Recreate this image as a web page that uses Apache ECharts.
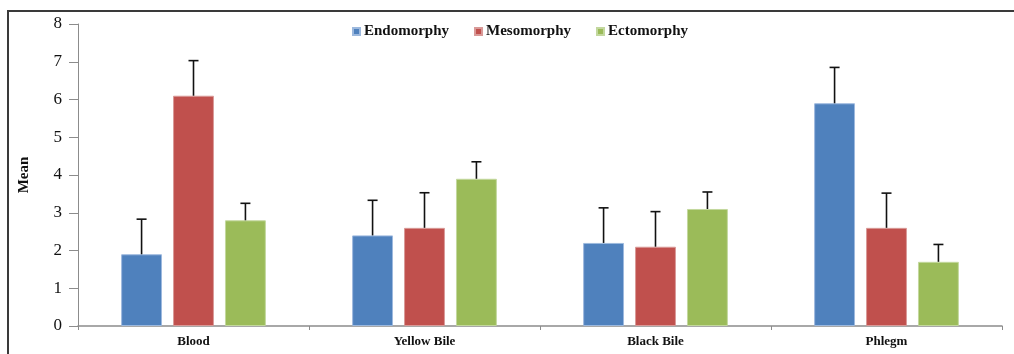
<!DOCTYPE html>
<html>
<head>
<meta charset="utf-8">
<script src="https://cdn.jsdelivr.net/npm/echarts@6/dist/echarts.min.js"></script>
<style>
html,body{margin:0;padding:0;background:#fff;}
#chart{width:1014px;height:354px;}
</style>
</head>
<body>
<div id="chart"></div>
<script>
var categories = ['Blood', 'Yellow Bile', 'Black Bile', 'Phlegm'];
var seriesNames = ['Endomorphy', 'Mesomorphy', 'Ectomorphy'];
var endomorphy = [1.9, 2.4, 2.2, 5.9];
var mesomorphy = [6.1, 2.6, 2.1, 2.6];
var ectomorphy = [2.8, 3.9, 3.1, 1.7];
var endomorphyErr = [0.93, 0.93, 0.93, 0.95];
var mesomorphyErr = [0.93, 0.93, 0.93, 0.92];
var ectomorphyErr = [0.45, 0.45, 0.45, 0.46];
var yTicks = ['0', '1', '2', '3', '4', '5', '6', '7', '8'];

var colors = ['#4F81BD', '#C0504D', '#9BBB59'];
var borders = ['#9DB9DE', '#D99A98', '#C3D89E'];
var values = [endomorphy, mesomorphy, ectomorphy];
var errors = [endomorphyErr, mesomorphyErr, ectomorphyErr];

var BAR_FRAC = 0.177;
var GAP_FRAC = 0.27;

function errRender(si) {
  return function (params, api) {
    var ci = api.value(0);
    var v = api.value(1);
    var e = api.value(2);
    var band = api.size([1, 0])[0];
    var bw = band * BAR_FRAC;
    var gap = bw * GAP_FRAC;
    var off = (si - 1) * (bw + gap);
    var base = api.coord([ci, v]);
    var top = api.coord([ci, v + e]);
    var x = base[0] + off;
    return {
      type: 'group',
      children: [
        {type: 'line', shape: {x1: x, y1: base[1], x2: x, y2: top[1]}, style: {stroke: '#111', lineWidth: 1.6}},
        {type: 'line', shape: {x1: x - 5, y1: top[1], x2: x + 5, y2: top[1]}, style: {stroke: '#111', lineWidth: 1.6}}
      ]
    };
  };
}

var series = [];
for (var i = 0; i < 3; i++) {
  series.push({
    name: seriesNames[i],
    type: 'bar',
    data: values[i],
    barWidth: (BAR_FRAC * 100) + '%',
    barGap: (GAP_FRAC * 100) + '%',
    itemStyle: {color: colors[i], borderColor: borders[i], borderWidth: 1},
    z: 2
  });
}
for (var j = 0; j < 3; j++) {
  var d = [];
  for (var k = 0; k < categories.length; k++) d.push([k, values[j][k], errors[j][k]]);
  series.push({
    type: 'custom',
    renderItem: errRender(j),
    data: d,
    encode: {x: 0, y: 1},
    z: 3,
    silent: true
  });
}

var chart = echarts.init(document.getElementById('chart'), null, {renderer: 'canvas'});
chart.setOption({
  animation: false,
  backgroundColor: '#fff',
  graphic: [{
    type: 'rect',
    shape: {x: 8, y: 11, width: 1100, height: 400},
    style: {fill: 'none', stroke: '#3a3a3a', lineWidth: 2},
    z: -1
  }],
  legend: {
    data: seriesNames,
    left: 347,
    top: 19,
    icon: 'rect',
    itemWidth: 7,
    itemHeight: 7,
    itemGap: 25,
    textStyle: {fontFamily: 'Liberation Serif', fontWeight: 'bold', fontSize: 15, color: '#111', padding: [0, 0, 0, -1]}
  },
  grid: {left: 78, right: 12, top: 24, bottom: 28, containLabel: false},
  xAxis: {
    type: 'category',
    data: categories,
    axisLine: {lineStyle: {color: '#8c8c8c', width: 1.5}},
    axisTick: {show: true, alignWithLabel: false, length: 4, lineStyle: {color: '#8c8c8c'}},
    axisLabel: {fontFamily: 'Liberation Serif', fontWeight: 'bold', fontSize: 13, color: '#111', margin: 9}
  },
  yAxis: {
    type: 'value',
    min: 0,
    max: 8,
    interval: 1,
    name: 'Mean',
    nameLocation: 'middle',
    nameGap: 46,
    nameRotate: 90,
    nameTextStyle: {fontFamily: 'Liberation Serif', fontWeight: 'bold', fontSize: 15, color: '#111'},
    splitLine: {show: false},
    axisLine: {show: true, lineStyle: {color: '#8c8c8c', width: 1}},
    axisTick: {show: true, length: 9, inside: false, lineStyle: {color: '#8c8c8c'}},
    axisLabel: {fontFamily: 'Liberation Serif', fontSize: 17, color: '#111', margin: 16,
      formatter: function (v) { return yTicks[Math.round(v)]; }}
  },
  series: series
});
</script>
</body>
</html>
